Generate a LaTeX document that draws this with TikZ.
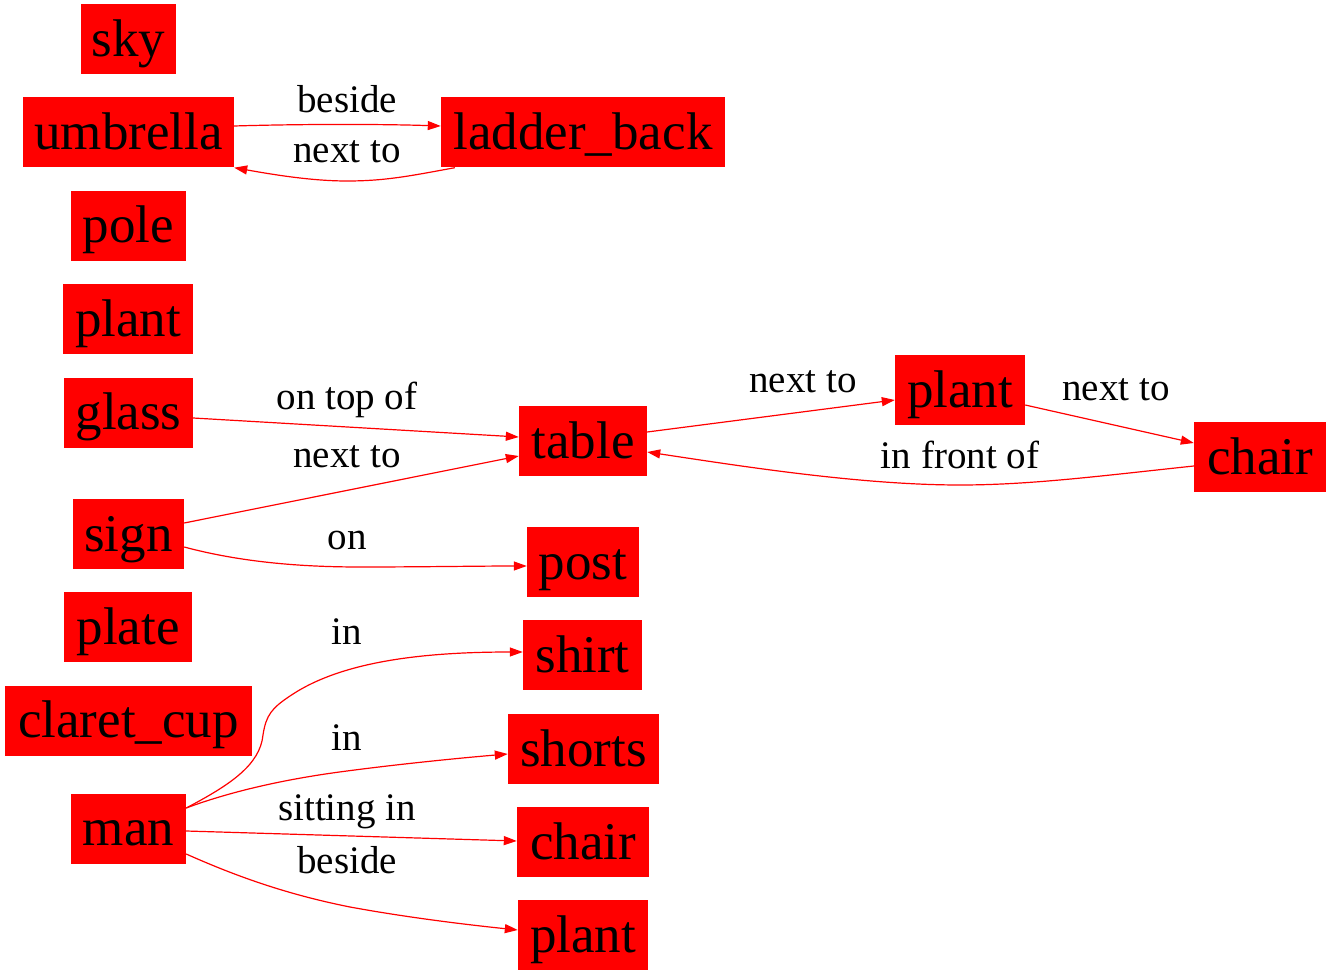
\documentclass[tikz,border=0pt]{standalone}
\usepackage{fontspec}
\setmainfont{Liberation Serif}
\usetikzlibrary{arrows.meta}
\tikzset{
  obj/.style={fill=red, draw=none, inner xsep=0pt, inner ysep=0pt,
    minimum height=70pt, text height=40pt, text depth=6pt,
    font=\fontsize{53}{60}\selectfont},
  rel/.style={draw=red, line width=1.2pt, -{Triangle[length=13pt,width=9pt]}, fill=none},
  lbl/.style={anchor=base, inner sep=0pt, font=\fontsize{39}{44}\selectfont},
}
\begin{document}
\begin{tikzpicture}[x=1pt, y=-1pt]
\useasboundingbox (0,0) rectangle (1331,976);

% objects
\node[obj, minimum width=95pt]  (sky)        at (128.5,39.5)  {sky};
\node[obj, minimum width=211pt] (umbrella)   at (128.5,132.5) {umbrella};
\node[obj, minimum width=284pt] (ladderback) at (583,132.5)   {ladder\_back};
\node[obj, minimum width=115pt] (pole)       at (128.5,226)   {pole};
\node[obj, minimum width=130pt] (plantA)     at (128,319.5)   {plant};
\node[obj, minimum width=129pt] (glass)      at (128.5,412.5) {glass};
\node[obj, minimum width=128pt] (table)      at (583,441)     {table};
\node[obj, minimum width=130pt] (plantB)     at (960,390)     {plant};
\node[obj, minimum width=132pt] (chairA)     at (1260,457)    {chair};
\node[obj, minimum width=111pt] (sign)       at (128.5,534)   {sign};
\node[obj, minimum width=112pt] (post)       at (583,562)     {post};
\node[obj, minimum width=128pt] (plate)      at (128,627)     {plate};
\node[obj, minimum width=247pt] (claretcup)  at (128.5,720.5) {claret\_cup};
\node[obj, minimum width=119pt] (shirt)      at (582.5,655)   {shirt};
\node[obj, minimum width=151pt] (shorts)     at (583.5,749)   {shorts};
\node[obj, minimum width=115pt] (man)        at (128.5,828.5) {man};
\node[obj, minimum width=132pt] (chairB)     at (583,842)     {chair};
\node[obj, minimum width=130pt] (plantC)     at (583,935)     {plant};

% relations
\draw[rel] ([yshift=6.5pt]umbrella.east) .. controls (300,124) and (380,124) .. ([yshift=6.5pt]ladderback.west);
\draw[rel] ([xshift=14pt]ladderback.south west) .. controls (410,176) and (385,181) .. (347,181)
           .. controls (310,181) and (270,174) .. (umbrella.south east);
\draw[rel] ([yshift=-5.5pt]glass.east) -- ([yshift=4pt]table.west);
\draw[rel] ([yshift=11pt]sign.east) -- ([yshift=-15pt]table.west);
\draw[rel] ([yshift=-13pt]sign.east) .. controls (240,562) and (300,567) .. (360,567)
           .. controls (420,567) and (480,566) .. ([yshift=-4pt]post.west);
\draw[rel] ([yshift=9pt]table.east) -- ([yshift=-10pt]plantB.west);
\draw[rel] ([yshift=-15pt]plantB.east) -- ([yshift=14pt]chairA.west);
\draw[rel] ([yshift=-9pt]chairA.west) .. controls (1100,476) and (1030,485) .. (960,485)
           .. controls (860,485) and (740,466) .. ([yshift=-11pt]table.east);
\draw[rel] ([yshift=20.5pt]man.east) .. controls (230,785) and (260,765) .. (263,735)
           .. controls (266,715) and (272,708) .. (290,696)
           .. controls (340,662) and (420,652) .. ([yshift=3pt]shirt.west);
\draw[rel] ([yshift=20.5pt]man.east) .. controls (240,788) and (300,777) .. (347,771)
           .. controls (400,764) and (460,758) .. ([yshift=-5pt]shorts.west);
\draw[rel] ([yshift=-2.5pt]man.east) -- ([yshift=1pt]chairB.west);
\draw[rel] ([yshift=-25.5pt]man.east) .. controls (240,878) and (290,895) .. (350,907)
           .. controls (410,918) and (470,925) .. ([yshift=5pt]plantC.west);

% relation labels
\node[lbl] (l1)  at (347,113) {beside};
\node[lbl] (l2)  at (347,163) {next to};
\node[lbl] (l3)  at (347,409) {on top of};
\node[lbl] (l4)  at (347,467) {next to};
\node[lbl] (l5)  at (347,549) {on};
\node[lbl] (l6)  at (803,392) {next to};
\node[lbl] (l7)  at (1116,400) {next to};
\node[lbl] (l8)  at (960,468) {in front of};
\node[lbl] (l9)  at (347,644) {in};
\node[lbl] (l10) at (347,750) {in};
\node[lbl] (l11) at (347,820) {sitting in};
\node[lbl] (l12) at (347,873) {beside};
\end{tikzpicture}
\end{document}
